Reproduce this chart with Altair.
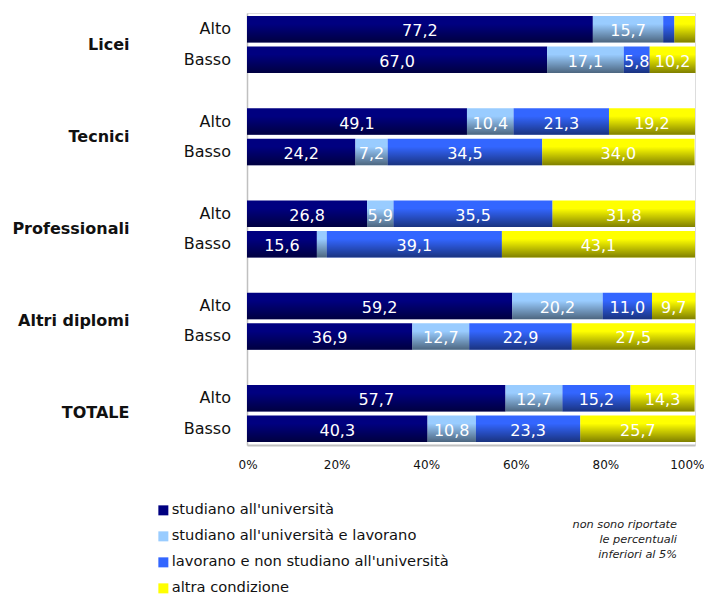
import altair as alt
import pandas as pd

groups = ["Licei", "Tecnici", "Professionali", "Altri diplomi", "TOTALE"]
levels = ["Alto", "Basso"]
series = [
    "studiano all'università",
    "studiano all'università e lavorano",
    "lavorano e non studiano all'università",
    "altra condizione",
]
colors = ["#000080", "#99ccff", "#3366ff", "#ffff00"]

# values per series, ordered Licei Alto, Licei Basso, Tecnici Alto, ...
studiano = [77.2, 67.0, 49.1, 24.2, 26.8, 15.6, 59.2, 36.9, 57.7, 40.3]
studiano_lavorano = [15.7, 17.1, 10.4, 7.2, 5.9, 2.2, 20.2, 12.7, 12.7, 10.8]
lavorano = [2.5, 5.8, 21.3, 34.5, 35.5, 39.1, 11.0, 22.9, 15.2, 23.3]
altra = [4.6, 10.2, 19.2, 34.0, 31.8, 43.1, 9.7, 27.5, 14.3, 25.7]

note_lines = ["non sono riportate", "le percentuali", "inferiori al 5%"]

FONT = "DejaVu Sans"

rows = []
for si, (name, vals) in enumerate(zip(series, [studiano, studiano_lavorano, lavorano, altra])):
    k = 0
    for g in groups:
        for lv in levels:
            rows.append({"group": g, "level": lv, "series": name, "order": si, "value": vals[k]})
            k += 1
df = pd.DataFrame(rows)

yenc = alt.Y(
    "group:N",
    sort=groups,
    scale=alt.Scale(paddingInner=0.382, paddingOuter=0.0325),
    axis=alt.Axis(
        title=None, ticks=False, labelFontSize=16, labelFontWeight="bold",
        labelPadding=118, labelFont=FONT, labelColor="#111111",
        domainColor="#c0c0c0", domainWidth=1.5,
    ),
)
yoff = alt.YOffset("level:N", sort=levels, scale=alt.Scale(paddingInner=0.13, paddingOuter=0))

base = alt.Chart(df).transform_stack(
    stack="value", groupby=["group", "level"], as_=["x0", "x1"],
    sort=[alt.SortField("order", order="ascending")],
).transform_calculate(
    mid="(datum.x0 + datum.x1) / 2",
    label="replace(format(datum.value, '.1f'), '.', ',')",
)

xenc = alt.X(
    "x0:Q",
    scale=alt.Scale(domain=[0, 100], nice=False),
    axis=alt.Axis(
        values=[0, 20, 40, 60, 80, 100], labelExpr="datum.value + '%'", title=None,
        grid=False, ticks=False, labelFontSize=12, labelPadding=14, labelFont=FONT,
        labelColor="#111111", domainColor="#c0c0c0", domainWidth=2,
        labelFlush=True, labelFlushOffset=9,
    ),
)

bars = base.mark_bar(cornerRadius=0).encode(
    x=xenc,
    x2="x1:Q",
    y=yenc,
    yOffset=yoff,
    color=alt.Color(
        "series:N",
        sort=series,
        scale=alt.Scale(domain=series, range=colors),
        legend=alt.Legend(
            title=None, orient="none", legendX=-91, legendY=490, direction="vertical",
            symbolType="square", symbolSize=100, symbolStrokeWidth=0, labelFontSize=14.7,
            labelFont=FONT, labelColor="#111111", rowPadding=10, labelOffset=1,
            labelLimit=400,
        ),
    ),
)

shade = base.mark_bar(
    color=alt.Gradient(
        gradient="linear",
        stops=[
            alt.GradientStop(color="rgba(0,0,0,0)", offset=0),
            alt.GradientStop(color="rgba(0,0,0,0)", offset=0.3),
            alt.GradientStop(color="rgba(0,0,0,0.5)", offset=1),
        ],
        x1=0, x2=0, y1=0, y2=1,
    )
).encode(x="x0:Q", x2="x1:Q", y=alt.Y("group:N", sort=groups), yOffset=alt.YOffset("level:N", sort=levels))

values_text = base.transform_filter("datum.value >= 5").mark_text(
    color="white", fontSize=16, font=FONT, align="center", baseline="middle", dy=2
).encode(
    x="mid:Q", y=alt.Y("group:N", sort=groups), yOffset=alt.YOffset("level:N", sort=levels), text="label:N"
)

level_text = base.transform_filter("datum.order == 0").mark_text(
    color="#111111", fontSize=16, font=FONT, align="right", baseline="middle"
).encode(
    x=alt.value(-16), y=alt.Y("group:N", sort=groups), yOffset=alt.YOffset("level:N", sort=levels), text="level:N"
)

note = alt.Chart(pd.DataFrame({"n": [1]})).mark_text(
    fontSize=11.3, font=FONT, fontStyle="italic", align="right", baseline="middle",
    color="#222222", lineHeight=15,
).encode(x=alt.value(430), y=alt.value(512), text=alt.value(note_lines))

chart = alt.layer(bars, shade, values_text, level_text, note).properties(
    width=448, height=432,
    autosize=alt.AutoSizeParams(type="none"),
    padding={"left": 239, "top": 5, "right": 9, "bottom": 160},
).configure_view(stroke="#d9d9d9", strokeWidth=1.5).configure(background="white")

chart.save("out.html", embed_options={"renderer": "svg", "actions": False})
